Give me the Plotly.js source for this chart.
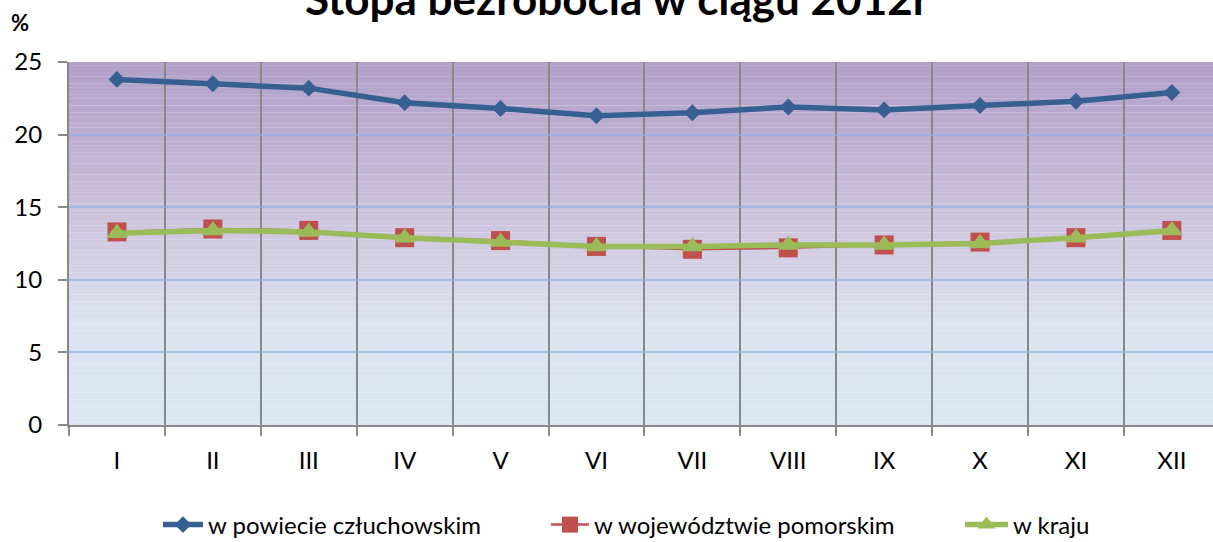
<!DOCTYPE html>
<html>
<head>
<meta charset="utf-8">
<script src="https://cdn.plot.ly/plotly-3.0.1.min.js"></script>
<style>
html,body{margin:0;padding:0;background:#fff;}
#chart{width:1213px;height:542px;}
</style>
</head>
<body>
<div id="chart"></div>
<script>
// ---- data ----
const months = ["I","II","III","IV","V","VI","VII","VIII","IX","X","XI","XII"];
const powiat = [23.8,23.5,23.2,22.2,21.8,21.3,21.5,21.9,21.7,22.0,22.3,22.9];
const wojewodztwo = [13.3,13.5,13.4,12.9,12.7,12.3,12.1,12.2,12.4,12.6,12.9,13.4];
const kraj = [13.2,13.4,13.3,12.9,12.6,12.3,12.3,12.4,12.4,12.5,12.9,13.4];
const seriesNames = ["w powiecie człuchowskim","w województwie pomorskim","w kraju"];
const yTicks = [0,5,10,15,20,25];
const titleText = "Stopa bezrobocia w ciągu 2012r";
const unitLabel = "%";

const FONT = "Lato, 'Open Sans', sans-serif";

// plot-area geometry (pixels)
const PL = 69, PT = 62, PB = 425, W = 1213, H = 542;
const PW = W - PL, PH = PB - PT;
function px2x(p){return (p-PL)/PW;}
function py2y(p){return (PB-p)/PH;}

// gradient background of the plot area (purple at top to light blue)
const gradStops = [
  [25,[177,160,199]],
  [20,[189,174,209]],
  [15,[202,192,219]],
  [10,[214,213,232]],
  [7,[220,227,241]],
  [0,[220,230,242]]
];
function colAt(v){
  for(let i=0;i<gradStops.length-1;i++){
    const a=gradStops[i], b=gradStops[i+1];
    if(v<=a[0] && v>=b[0]){
      const t=(a[0]-v)/(a[0]-b[0]);
      const c=a[1].map((x,k)=>Math.round(x+(b[1][k]-x)*t));
      return 'rgb('+c.join(',')+')';
    }
  }
  return 'rgb(220,230,242)';
}
const shapes=[];
const steps=100;
for(let i=0;i<steps;i++){
  const y0=25*i/steps, y1=25*(i+1)/steps;
  shapes.push({type:'rect',xref:'paper',yref:'y',x0:0,x1:1,y0:y0,y1:y1+0.01,
    fillcolor:colAt((y0+y1)/2),line:{width:0},layer:'below'});
}

const traces=[
  {x:months,y:powiat,name:seriesNames[0],type:'scatter',mode:'lines+markers',
   line:{color:'#376092',width:5.5},marker:{symbol:'diamond',size:13,color:'#376092'},legend:'legend'},
  {x:months,y:wojewodztwo,name:seriesNames[1],type:'scatter',mode:'lines+markers',
   line:{color:'#c0504d',width:2.5},marker:{symbol:'square',size:19,color:'#c0504d'},legend:'legend2'},
  {x:months,y:kraj,name:seriesNames[2],type:'scatter',mode:'lines+markers',
   line:{color:'#9bbb59',width:5.5},marker:{symbol:'triangle-up',size:19,color:'#9bbb59'},legend:'legend3'}
];

const legBase={orientation:'h',yanchor:'middle',xanchor:'left',bgcolor:'rgba(0,0,0,0)',
  font:{family:FONT,size:24,color:'#000'},yref:'paper',xref:'paper',y:py2y(525)};
// category width so that the plot runs a little past the right edge like the reference
const catW = 95.9;
const rightEdge = -0.5 + PW/catW;

const layout={
  width:W,height:H,
  margin:{l:PL,r:0,t:PT,b:H-PB,autoexpand:false},
  paper_bgcolor:'#fff',plot_bgcolor:'rgba(0,0,0,0)',
  font:{family:FONT,color:'#000'},
  title:{text:'<b>'+titleText+'</b>',font:{family:FONT,size:44,color:'#000'},
    xref:'container',x:617/W,xanchor:'center',yref:'container',y:1,yanchor:'middle'},
  showlegend:true,
  legend:Object.assign({},legBase,{x:px2x(158),itemwidth:40}),
  legend2:Object.assign({},legBase,{x:px2x(546),itemwidth:38}),
  legend3:Object.assign({},legBase,{x:px2x(960),itemwidth:43}),
  xaxis:{type:'category',categoryarray:months,tickson:'boundaries',
    showgrid:true,gridcolor:'#888888',gridwidth:2,
    showline:true,linecolor:'#888888',linewidth:2,
    ticks:'outside',ticklen:9,tickwidth:2,tickcolor:'#888888',
    tickfont:{family:FONT,size:24,color:'#000'},ticklabelstandoff:13,
    range:[-0.5,rightEdge],fixedrange:true},
  yaxis:{range:[0,25],tickvals:yTicks,ticktext:yTicks.map(String),
    showgrid:true,gridcolor:'rgba(141,180,226,0.7)',gridwidth:2,zeroline:false,
    showline:true,linecolor:'#888888',linewidth:2,
    ticks:'outside',ticklen:9,tickwidth:2,tickcolor:'#888888',
    tickfont:{family:FONT,size:24,color:'#000'},ticklabelstandoff:11,fixedrange:true},
  shapes:shapes,
  annotations:[{text:'<b>'+unitLabel+'</b>',xref:'paper',yref:'paper',x:px2x(20),y:py2y(23),
    xanchor:'center',yanchor:'middle',showarrow:false,font:{family:FONT,size:22,color:'#000'}}]
};
Plotly.newPlot('chart',traces,layout,{displayModeBar:false,staticPlot:true});
</script>
</body>
</html>
